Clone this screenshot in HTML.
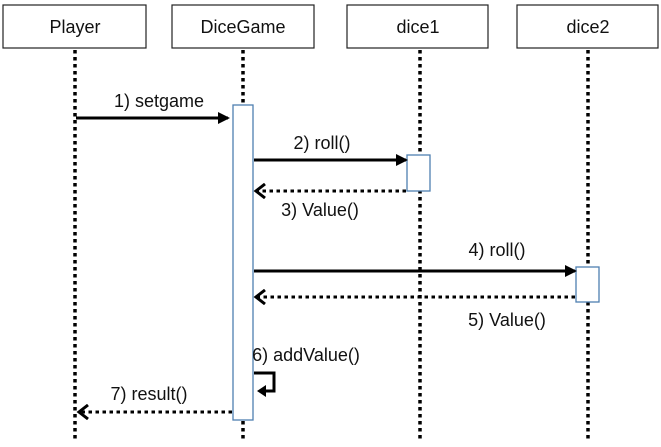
<!DOCTYPE html>
<html><head><meta charset="utf-8"><style>
html,body{margin:0;padding:0;background:#fff;}
text{font-family:"Liberation Sans","Noto Sans CJK KR",sans-serif;font-size:18px;fill:#111;}
</style></head><body>
<svg width="661" height="442" xmlns="http://www.w3.org/2000/svg">
<defs>
<marker id="a" markerWidth="12" markerHeight="12" refX="10" refY="6" orient="auto" markerUnits="userSpaceOnUse"><path d="M0,0 L12,6 L0,12 Z" fill="#000"/></marker>
<marker id="o" markerWidth="14" markerHeight="16" refX="11" refY="8" orient="auto" markerUnits="userSpaceOnUse"><path d="M2,1 L11,8 L2,15" fill="none" stroke="#000" stroke-width="3"/></marker>
</defs>
<g fill="#fff" stroke="#222" stroke-width="1.2">
<rect x="3" y="5" width="143" height="43"/>
<rect x="172" y="5" width="142" height="43"/>
<rect x="347" y="5" width="141" height="43"/>
<rect x="517" y="5" width="141" height="43"/>
</g>
<text x="75" y="33" text-anchor="middle">Player</text>
<text x="243" y="33" text-anchor="middle">DiceGame</text>
<text x="418" y="33" text-anchor="middle">dice1</text>
<text x="588" y="33" text-anchor="middle">dice2</text>
<g stroke="#000" stroke-width="3.5" stroke-dasharray="3.5,3.5">
<line x1="75" y1="50" x2="75" y2="442"/>
<line x1="243" y1="50" x2="243" y2="442"/>
<line x1="420" y1="50" x2="420" y2="442"/>
<line x1="588" y1="50" x2="588" y2="442"/>
</g>
<g fill="#fff" stroke="#4f7fb0" stroke-width="1.3">
<rect x="233" y="105" width="20" height="315"/>
<rect x="407" y="155" width="23" height="36"/>
<rect x="576" y="267" width="23" height="35"/>
</g>
<g stroke="#000" stroke-width="3" fill="none">
<line x1="76" y1="118" x2="228" y2="118" marker-end="url(#a)"/>
<line x1="254" y1="160" x2="406" y2="160" marker-end="url(#a)"/>
<line x1="254" y1="271" x2="575" y2="271" marker-end="url(#a)"/>
<line x1="406" y1="191" x2="256" y2="191" stroke-dasharray="3.5,3.5" marker-end="url(#o)"/>
<line x1="575" y1="297" x2="256" y2="297" stroke-dasharray="3.5,3.5" marker-end="url(#o)"/>
<line x1="232" y1="412" x2="79" y2="412" stroke-dasharray="3.5,3.5" marker-end="url(#o)"/>
<polyline points="254,373 274,373 274,391 264,391" />
</g>
<path d="M266,385 L257,391 L266,397 Z" fill="#000"/>
<text x="159" y="107" text-anchor="middle">1) setgame</text>
<text x="322" y="149" text-anchor="middle">2) roll()</text>
<text x="320" y="216" text-anchor="middle">3) Value()</text>
<text x="497" y="256" text-anchor="middle">4) roll()</text>
<text x="507" y="326" text-anchor="middle">5) Value()</text>
<text x="306" y="361" text-anchor="middle">6) addValue()</text>
<text x="149" y="400" text-anchor="middle">7) result()</text>
</svg>
</body></html>
